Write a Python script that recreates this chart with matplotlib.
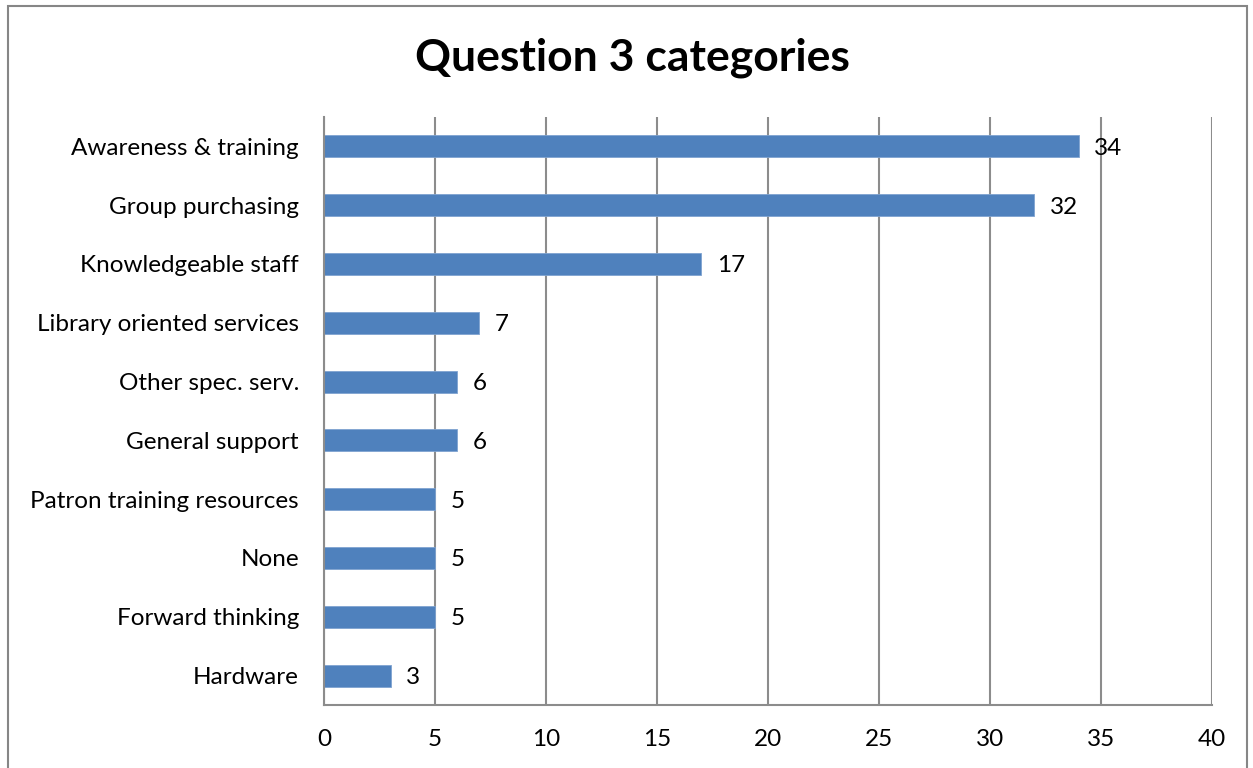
import matplotlib
matplotlib.use("Agg")
import matplotlib.pyplot as plt
from matplotlib.patches import Rectangle

# data (top to bottom as in the chart)
categories = ["Awareness & training", "Group purchasing", "Knowledgeable staff",
              "Library oriented services", "Other spec. serv.", "General support",
              "Patron training resources", "None", "Forward thinking", "Hardware"]
counts = [34, 32, 17, 7, 6, 6, 5, 5, 5, 3]
x_ticks = [0, 5, 10, 15, 20, 25, 30, 35, 40]

plt.rcParams['font.family'] = ['Lato', 'DejaVu Sans']

fig = plt.figure(figsize=(12.53, 7.68), dpi=100)
ax = fig.add_axes([324 / 1253, 63 / 768, 888 / 1253, 588 / 768])

# outer chart border
fig.patches.append(Rectangle((8 / 1253, -0.05), 1239 / 1253, 1.05 - 6 / 768,
                             transform=fig.transFigure, fill=False,
                             edgecolor="#868686", linewidth=1.5))

ypos = list(range(len(categories)))
ax.barh(ypos, counts, height=0.375, color="#4F81BD", edgecolor="#7FA3D0",
        linewidth=0.6, zorder=2)

for y, v in zip(ypos, counts):
    ax.annotate(str(v), (v, y), xytext=(11, 0), textcoords="offset points",
                va="center_baseline", ha="left", fontsize=17.5, color="black", zorder=3)

ax.set_xlim(0, 40)
ax.set_ylim(len(categories) - 0.5, -0.5)
ax.set_xticks(x_ticks)
ax.set_yticks(ypos)
ax.set_yticklabels(categories)
ax.tick_params(axis="both", length=0, labelsize=17.5, colors="black")
ax.tick_params(axis="x", pad=17)
ax.tick_params(axis="y", pad=18)

ax.grid(axis="x", color="#8C8C8C", linewidth=1.5, zorder=1)
ax.set_axisbelow(True)
for side in ["top", "right"]:
    ax.spines[side].set_visible(False)
for side in ["left", "bottom"]:
    ax.spines[side].set_color("#8C8C8C")
    ax.spines[side].set_linewidth(1.5)

fig.text(632 / 1253, 1 - 58 / 768, "Question 3 categories", ha="center",
         va="center", fontsize=32, fontweight="bold")

fig.savefig("out.png", dpi=100)
